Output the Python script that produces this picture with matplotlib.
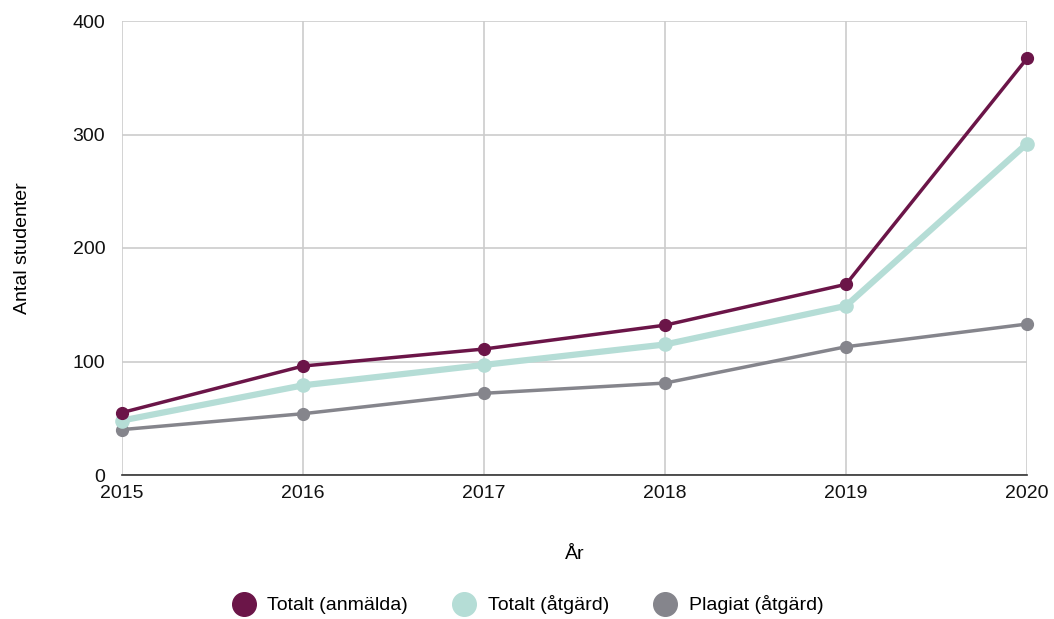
import matplotlib.pyplot as plt
from matplotlib.lines import Line2D

plt.rcParams['font.family'] = ['Liberation Sans', 'DejaVu Sans']

years = [2015, 2016, 2017, 2018, 2019, 2020]
totalt_anmalda = [55, 96, 111, 132, 168, 367]
totalt_atgard = [48, 79, 97, 115, 149, 292]
plagiat_atgard = [40, 54, 72, 81, 113, 133]

labels = ['Totalt (anmälda)', 'Totalt (åtgärd)', 'Plagiat (åtgärd)']
colors = ['#6b1548', '#b5ddd6', '#85858c']

fig = plt.figure(figsize=(10.54, 6.19), dpi=100)
ax = fig.add_axes([122 / 1054, 144 / 619, 905 / 1054, 454 / 619])

# draw back to front
ax.plot(years, plagiat_atgard, color=colors[2], lw=2.5, marker='o', ms=8.5, zorder=3, clip_on=False)
ax.plot(years, totalt_atgard, color=colors[1], lw=4.5, marker='o', ms=9.5, zorder=4, clip_on=False)
ax.plot(years, totalt_anmalda, color=colors[0], lw=2.5, marker='o', ms=8.5, zorder=5, clip_on=False)

ax.set_xlim(2015, 2020)
ax.set_ylim(0, 400)
ax.set_yticks([0, 100, 200, 300, 400])
ax.set_xticks(years)
ax.grid(True, color='#cccccc', lw=1.2)
ax.set_axisbelow(True)
for s in ['top', 'right', 'left']:
    ax.spines[s].set_visible(False)
ax.spines['bottom'].set_color('#333333')
ax.spines['bottom'].set_linewidth(1.2)
ax.tick_params(length=0, labelsize=14, colors='#111111')
ax.tick_params(axis='x', pad=7)
ax.tick_params(axis='y', pad=12)

ax.set_xlabel('År', fontsize=14, labelpad=32)
ax.set_ylabel('Antal studenter', fontsize=14, labelpad=30)

handles = [Line2D([], [], ls='none', marker='o', ms=17, color=c) for c in colors]
fig.legend(handles, labels, loc='center', bbox_to_anchor=(0.497, 14 / 619),
           ncol=3, frameon=False, fontsize=14, handletextpad=0.2, columnspacing=1.9)

fig.savefig('out.png', dpi=100)
